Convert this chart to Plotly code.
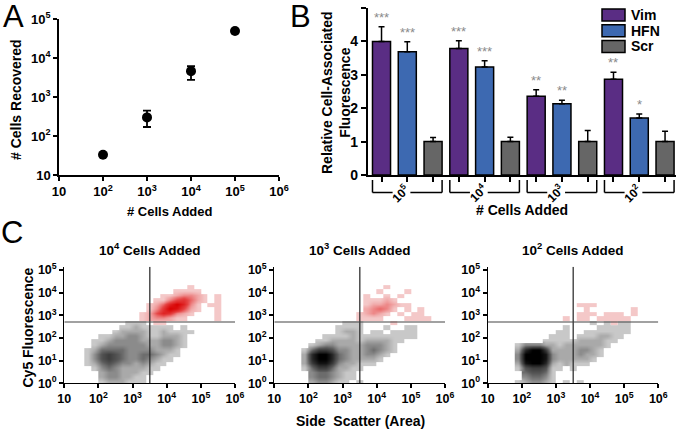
import numpy as np
import plotly.graph_objects as go

FONT = "Liberation Sans"

# ---------------- panel A: recovery
cells_added = [1e2, 1e3, 1e4, 1e5]
cells_recovered = [33, 300, 4600, 49000]
recovered_err_up = [0, 145, 1600, 0]
recovered_err_down = [0, 130, 1850, 0]

# ---------------- panel B: relative fluorescence
groups = ["10<sup>5</sup>", "10<sup>4</sup>", "10<sup>3</sup>", "10<sup>2</sup>"]
series = ["Vim", "HFN", "Scr"]
vim = [4.0, 3.79, 2.36, 2.87]
vim_err = [0.44, 0.23, 0.19, 0.21]
hfn = [3.69, 3.23, 2.13, 1.71]
hfn_err = [0.30, 0.19, 0.11, 0.12]
scr = [1.0, 1.0, 1.0, 1.0]
scr_err = [0.12, 0.13, 0.33, 0.31]
vim_sig = ["***", "***", "**", "**"]
hfn_sig = ["***", "***", "**", "*"]
scr_sig = ["", "", "", ""]
bar_colors = ["#5a2d84", "#3d69b1", "#666666"]

# ---------------- panel C: flow cytometry density (0.2-decade bins)
# rows from top (10^5) to bottom (10^0); digits = black density, letters = red (gated) density
c_titles = ["10<sup>4</sup> Cells Added", "10<sup>3</sup> Cells Added", "10<sup>2</sup> Cells Added"]
gate_x = 3200
gate_y = 510
dens_1e4 = [
    "", "", "",
    "..................a",
    "................aaaa",
    "..............aabccba.a",
    ".............aacefdba.a",
    "............abdgigca.aa",
    "............acfiheba..a",
    "...........abegfcba...a",
    "...........abccbaa....a",
    ".........111.aa",
    "........11211111.1",
    ".......122221121111",
    ".....1122332112221",
    "....11233332223321",
    "....12333333223321",
    "...12444433332221",
    "...13565433443211",
    "...1356543343211",
    "...124543323211",
    "....1343222211",
    ".....23322211",
    ".....2332211",
    ".....1222111",
]
dens_1e3 = [
    "", "", "",
    "................a",
    "...............a...a",
    ".............a..a.a",
    ".............aaaba",
    ".............abbcbaa",
    ".............bcdca.a.a",
    "............abcba.a.aa",
    "............aaaa...aaaa",
    "..........111....a",
    ".........1111...1..11",
    ".........1221.11.1111",
    ".......11112111111111",
    "......1122221222211",
    ".....1233222233321",
    "....14665332234321",
    "....2799743223321",
    "....279974322221",
    "....26886322111",
    "....146642211",
    ".....3443211",
    ".....3443211",
    ".....233211.1",
]
dens_1e2 = [
    "", "", "", "", "", "", "",
    ".............aaa",
    "..............a......a",
    ".............aaa.aaa.a",
    "...........a.aa.aaaaa",
    "...............1.1a11",
    "...........1....11111",
    "..........11..1111111",
    ".........111.1112211",
    "........11111222211",
    "....13332212222221",
    "....2799622223321",
    "....3999832223221",
    "....399983222221",
    "....28997212111",
    "....1566511.1",
    ".....45541",
    ".....34431",
    "....123321.1.1",
]


def parse_density(rows, n=25):
    rows = [""] * (n - len(rows)) + rows
    rows = [r.ljust(n, ".")[:n] for r in rows][::-1]
    black = [[int(c) if c.isdigit() else None for c in r] for r in rows]
    red = [[ord(c) - 96 if c.isalpha() else None for c in r] for r in rows]
    return black, red


def sup_ticks(powers, plain_ten=True):
    out = []
    for p in powers:
        if p == 1 and plain_ten:
            out.append("10")
        else:
            out.append("10<sup>%d</sup>" % p)
    return out


fig = go.Figure()

axis_common = dict(
    showline=True, linecolor="black", linewidth=1.5, ticks="outside",
    ticklen=4, tickwidth=1.5, tickcolor="black", showgrid=False,
    zeroline=False, mirror=False, automargin=False,
)

# ---- A
fig.add_trace(go.Scatter(
    x=cells_added, y=cells_recovered, mode="markers",
    marker=dict(color="black", size=10),
    error_y=dict(type="data", array=recovered_err_up, arrayminus=recovered_err_down,
                 symmetric=False, color="black", thickness=1.8, width=4),
    xaxis="x", yaxis="y", showlegend=False, hoverinfo="skip",
))

# ---- B
values = [vim, hfn, scr]
errors = [vim_err, hfn_err, scr_err]
sigs = [vim_sig, hfn_sig, scr_sig]
for s, name in enumerate(series):
    fig.add_trace(go.Bar(
        x=list(range(len(groups))), y=values[s], name=name,
        marker=dict(color=bar_colors[s], line=dict(color="black", width=1.5)),
        error_y=dict(type="data", array=errors[s], arrayminus=[0] * len(groups),
                     symmetric=False, color="black", thickness=1.5, width=3),
        xaxis="x2", yaxis="y2", showlegend=False, hoverinfo="skip",
    ))

slot = 1 / len(series)
bar_pos = [k + (s - 1) * slot for k in range(len(groups)) for s in range(len(series))]
half_span = slot + 0.35 * slot

annotations = []
shapes = []
for k in range(len(groups)):
    for s in range(len(series)):
        if sigs[s][k]:
            annotations.append(dict(
                x=k + (s - 1) * slot, y=values[s][k] + errors[s][k], xref="x2", yref="y2",
                text=sigs[s][k], yanchor="bottom", yshift=0,
                font=dict(family=FONT, size=13, color="#8a8a8a"),
            ))
    # group bracket below the axis
    y_top, y_bot = 1 - 180 / 431, 1 - 192.5 / 431
    for x0, x1 in [(k - half_span, k - 0.19), (k + 0.04, k + half_span)]:
        shapes.append(dict(type="line", xref="x2", yref="paper", x0=x0, x1=x1, y0=y_bot, y1=y_bot,
                           line=dict(color="black", width=1.5)))
    for xx in (k - half_span, k + half_span):
        shapes.append(dict(type="line", xref="x2", yref="paper", x0=xx, x1=xx, y0=y_top, y1=y_bot,
                           line=dict(color="black", width=1.5)))
    annotations.append(dict(
        x=k - 0.09, y=1 - 193 / 431, xref="x2", yref="paper", text="<b>%s</b>" % groups[k],
        textangle=-45, yanchor="middle", font=dict(family=FONT, size=12, color="black"),
    ))

# legend for B
for s, name in enumerate(series):
    top = 9 + s * 15.7
    shapes.append(dict(type="rect", xref="paper", yref="paper",
                       x0=602 / 680, x1=625 / 680, y0=1 - (top + 12) / 431, y1=1 - top / 431,
                       fillcolor=bar_colors[s], line=dict(color="black", width=1.5)))
    annotations.append(dict(x=629 / 680, y=1 - (top + 6) / 431, xref="paper", yref="paper",
                            text="<b>%s</b>" % name, xanchor="left", yanchor="middle",
                            font=dict(family=FONT, size=14, color="black")))

# ---- C
c_domains = [(64.3 / 680, 235 / 680), (274.3 / 680, 445 / 680), (487.7 / 680, 658.3 / 680)]
x_edges = np.linspace(1, 6, 26)
y_edges = np.linspace(0, 5, 26)
for n, dens in enumerate([dens_1e4, dens_1e3, dens_1e2]):
    black, red = parse_density(dens)
    xa, ya = "x%d" % (n + 3), "y%d" % (n + 3)
    fig.add_trace(go.Heatmap(
        x=x_edges, y=y_edges, z=black, zmin=1, zmax=9, showscale=False, zsmooth="best",
        colorscale=[[0, "#c8c8c8"], [0.45, "#5a5a5a"], [1, "#000000"]],
        xaxis=xa, yaxis=ya, hoverinfo="skip",
    ))
    fig.add_trace(go.Heatmap(
        x=x_edges, y=y_edges, z=red, zmin=1, zmax=9, showscale=False, zsmooth="best",
        colorscale=[[0, "#f4c8c8"], [0.5, "#e64646"], [1, "#d80000"]],
        xaxis=xa, yaxis=ya, hoverinfo="skip",
    ))
    shapes.append(dict(type="line", xref=xa, yref=ya, x0=np.log10(gate_x), x1=np.log10(gate_x),
                       y0=0, y1=5.15, line=dict(color="#222222", width=1.2)))
    shapes.append(dict(type="line", xref=xa, yref=ya, x0=1, x1=6,
                       y0=np.log10(gate_y), y1=np.log10(gate_y), line=dict(color="#444444", width=1.2)))
    annotations.append(dict(x=0.5, y=1 - 249 / 431, xref="%s domain" % xa, yref="paper",
                            text="<b>%s</b>" % c_titles[n], yanchor="middle",
                            font=dict(family=FONT, size=13.5, color="black")))

tick_font_a = dict(family=FONT, size=13, color="black", weight="bold")
tick_font_c = dict(family=FONT, size=12.5, color="black", weight="bold")

layout = dict(
    width=680, height=431, margin=dict(l=0, r=0, t=0, b=0, autoexpand=False),
    paper_bgcolor="white", plot_bgcolor="white",
    barmode="group", bargap=0, bargroupgap=0.3,
    xaxis=dict(axis_common, type="log", range=[1, 6], domain=[59 / 680, 279 / 680], anchor="y",
               tickvals=[10 ** p for p in range(1, 7)], ticktext=sup_ticks(range(1, 7)),
               tickfont=tick_font_a),
    yaxis=dict(axis_common, type="log", range=[1, 5], domain=[1 - 175 / 431, 1 - 19 / 431], anchor="x",
               tickvals=[10 ** p for p in range(1, 6)], ticktext=sup_ticks(range(1, 6)),
               tickfont=tick_font_a),
    xaxis2=dict(axis_common, range=[-0.512, 3.475], domain=[367.7 / 680, 676 / 680], anchor="y2",
                tickvals=bar_pos, showticklabels=False, ticklen=5),
    yaxis2=dict(axis_common, range=[0, 5], domain=[1 - 175 / 431, 1 - 8 / 431], anchor="x2",
                tickvals=[0, 1, 2, 3, 4, 5], ticklen=5,
                tickfont=dict(family=FONT, size=14, color="black", weight="bold")),
)
for n, dom in enumerate(c_domains):
    layout["xaxis%d" % (n + 3)] = dict(
        axis_common, range=[1, 6], domain=list(dom), anchor="y%d" % (n + 3), linewidth=1.2,
        tickvals=list(range(1, 7)), ticktext=sup_ticks(range(1, 7)), tickfont=tick_font_c)
    layout["yaxis%d" % (n + 3)] = dict(
        axis_common, range=[0, 5.15], domain=[1 - 383.3 / 431, 1 - 266.7 / 431], anchor="x%d" % (n + 3),
        linewidth=1.2, tickvals=list(range(0, 6)), ticktext=sup_ticks(range(0, 6), plain_ten=False),
        tickfont=tick_font_c)

title_font = dict(family=FONT, size=14, color="black")
page_texts = [
    dict(x=13 / 680, y=1 - 16 / 431, text="A", font=dict(family=FONT, size=31, color="black")),
    dict(x=300 / 680, y=1 - 16 / 431, text="B", font=dict(family=FONT, size=31, color="black")),
    dict(x=12 / 680, y=1 - 232 / 431, text="C", font=dict(family=FONT, size=31, color="black")),
    dict(x=16 / 680, y=1 - 100 / 431, text="<b># Cells Recovered</b>", textangle=-90, font=title_font),
    dict(x=170 / 680, y=1 - 211 / 431, text="<b># Cells Added</b>", font=dict(family=FONT, size=13, color="black")),
    dict(x=335.5 / 680, y=1 - 92.5 / 431, text="<b>Relative Cell-Associated<br>Fluorescence</b>",
         textangle=-90, font=title_font),
    dict(x=522 / 680, y=1 - 210 / 431, text="<b># Cells Added</b>", font=title_font),
    dict(x=27.5 / 680, y=1 - 328 / 431, text="<b>Cy5 Fluorescence</b>", textangle=-90, font=title_font),
    dict(x=360 / 680, y=1 - 421 / 431, text="<b>Side\u00a0 Scatter (Area)</b>", font=title_font),
]
for a in page_texts:
    a.update(xref="paper", yref="paper", xanchor="center", yanchor="middle")
annotations += page_texts
for a in annotations:
    a["showarrow"] = False
    a.setdefault("xanchor", "center")

layout["annotations"] = annotations
layout["shapes"] = shapes
fig.update_layout(**layout)
fig.write_html("out.html", config={"displayModeBar": False},
               post_script="document.body.style.margin = '0';")
